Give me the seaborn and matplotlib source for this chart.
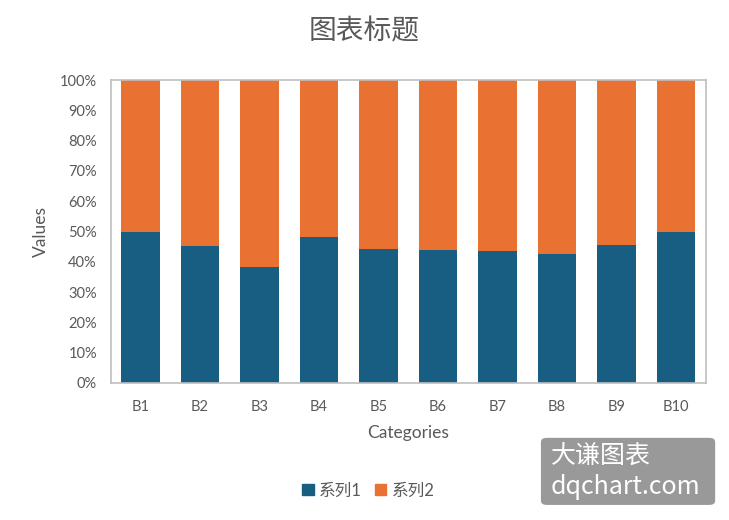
import matplotlib.pyplot as plt
import seaborn as sns
import pandas as pd
from matplotlib.patches import Patch, FancyBboxPatch
from matplotlib.ticker import PercentFormatter

# data (share of series 1, in %)
categories = ["B1", "B2", "B3", "B4", "B5", "B6", "B7", "B8", "B9", "B10"]
series1 = [50.0, 45.3, 38.3, 48.2, 44.2, 43.9, 43.6, 42.7, 45.5, 50.0]
series2 = [100 - v for v in series1]
series_names = ["系列1", "系列2"]

blue = "#175E82"
orange = "#E97132"
gray = "#595959"

df = pd.DataFrame({"cat": categories, "s1": series1, "s2": series2})
df["total"] = df["s1"] + df["s2"]

sns.set_style("white")
plt.rcParams["font.family"] = ["Lato", "Noto Sans CJK SC", "DejaVu Sans"]

fig = plt.figure(figsize=(7.29, 5.2), dpi=100)
ax = fig.add_axes([0.152, 0.2635, 0.816, 0.5825])

# stacked: draw the total in orange, then series 1 in blue on top
sns.barplot(data=df, x="cat", y="total", color=orange, width=0.65,
            saturation=1, linewidth=0, ax=ax)
sns.barplot(data=df, x="cat", y="s1", color=blue, width=0.65,
            saturation=1, linewidth=0, ax=ax)

ax.set_ylim(0, 100)
ax.set_xlim(-0.5, len(categories) - 0.5)
ax.set_yticks(range(0, 101, 10))
ax.yaxis.set_major_formatter(PercentFormatter(decimals=0))
ax.tick_params(axis="both", length=0, labelsize=10.5, labelcolor=gray)
ax.tick_params(axis="y", pad=10)
ax.tick_params(axis="x", pad=12)

for s in ax.spines.values():
    s.set_color("#BFBFBF")
    s.set_linewidth(1.2)

ax.set_xlabel("Categories", fontsize=12.5, color=gray, labelpad=8)
ax.set_ylabel("Values", fontsize=12.5, color=gray, labelpad=8)
fig.suptitle("图表标题", fontsize=20, color=gray, y=0.965)

handles = [Patch(color=blue), Patch(color=orange)]
fig.legend(handles, series_names, loc="center", bbox_to_anchor=(0.505, 0.057),
           ncol=2, frameon=False, fontsize=12, handlelength=0.7,
           handleheight=0.7, handletextpad=0.3, columnspacing=0.8,
           labelcolor=gray)

# watermark box
box = FancyBboxPatch((0.742, 0.029), 0.239, 0.129, transform=fig.transFigure,
                     boxstyle="round,pad=0,rounding_size=0.008",
                     facecolor="#999999", edgecolor="none")
fig.patches.append(box)
fig.text(0.756, 0.123, "大谦图表", color="white", fontsize=18, va="center",
         family=["Noto Sans CJK SC"])
fig.text(0.756, 0.063, "dqchart.com", color="white", fontsize=18, va="center",
         family=["Noto Sans CJK SC"])

plt.savefig("out.png", dpi=100)
